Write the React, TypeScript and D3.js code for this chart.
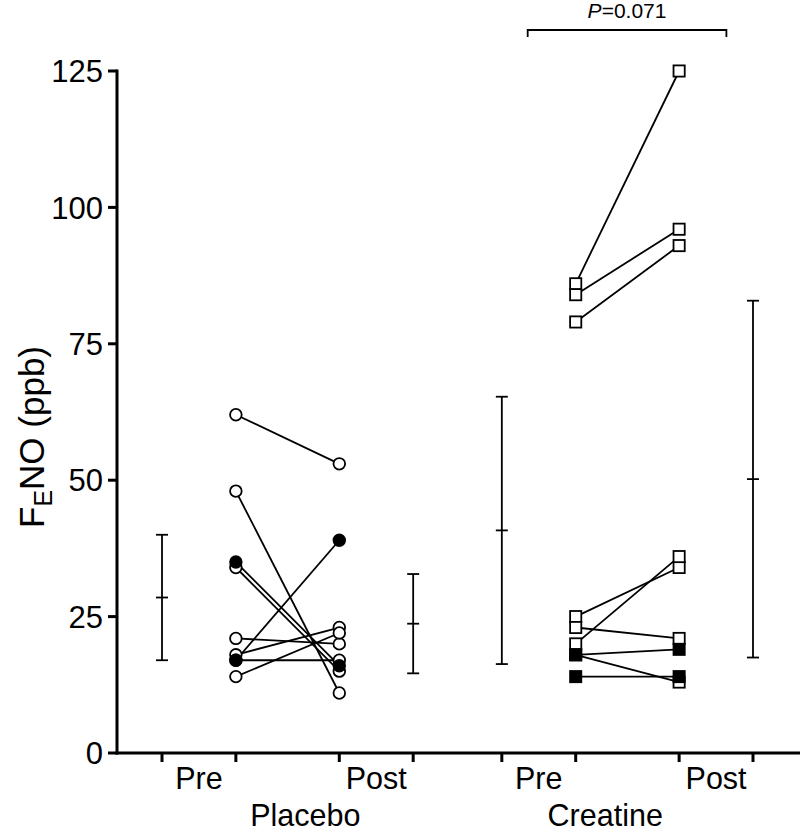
import React from "react";
import * as d3 from "d3";

// slot positions along x (scale units)
const slotKeys = ["plSDPre", "plPre", "plPost", "plSDPost", "crSDPre", "crPre", "crPost", "crSDPost"];
const slotUnits = [0, 1, 2.4, 3.4, 4.6, 5.6, 7, 8];

const yTicks = [0, 25, 50, 75, 100, 125];

// Placebo subjects: pre, post, filled (1) / open (0)
const placeboPre = [62, 48, 35, 34, 21, 18, 17, 14, 17];
const placeboPost = [53, 11, 16, 15, 20, 23, 39, 22, 17];
const placeboFilled = [0, 0, 1, 0, 0, 0, 1, 0, 0];

// Creatine subjects
const creatinePre = [86, 84, 79, 25, 20, 23, 18, 18, 14];
const creatinePost = [125, 96, 93, 34, 36, 21, 19, 13, 14];
const creatineFilled = [0, 0, 0, 0, 0, 0, 1, 0, 1];

// mean ± SD bars
const sdSlots = ["plSDPre", "plSDPost", "crSDPre", "crSDPost"];
const sdMeans = [28.5, 23.7, 40.8, 50.2];
const sdValues = [11.5, 9.1, 24.5, 32.7];

// x labels
const phaseLabels = ["Pre", "Post", "Pre", "Post"];
const phaseUnits = [0.5, 2.9, 5.1, 7.5];
const groupLabels = ["Placebo", "Creatine"];
const groupUnits = [1.94, 6.0];

// significance bracket
const bracketUnits = [4.95, 7.64];
const bracketText = "0.071";

export default function App() {
  const W = 800, H = 831;
  const axisX = 117;
  const x = d3.scaleLinear().domain([0, 8]).range([162, 753]);
  const y = d3.scaleLinear().domain([0, 125]).range([753, 71]);
  const slotX = (k: string) => x(slotUnits[slotKeys.indexOf(k)]);
  const font = "'Liberation Sans', Arial, Helvetica, sans-serif";

  const pairs = (pre: number[], post: number[], filled: number[], a: string, b: string) =>
    pre.map((v, i) => ({ x1: slotX(a), y1: y(v), x2: slotX(b), y2: y(post[i]), f: filled[i] }));
  const pl = pairs(placeboPre, placeboPost, placeboFilled, "plPre", "plPost");
  const cr = pairs(creatinePre, creatinePost, creatineFilled, "crPre", "crPost");

  const markers = (arr: any[], shape: string) => {
    const pts: any[] = [];
    arr.forEach((p) => {
      pts.push({ cx: p.x1, cy: p.y1, f: p.f });
      pts.push({ cx: p.x2, cy: p.y2, f: p.f });
    });
    pts.sort((a, b) => a.f - b.f);
    return pts.map((p, i) =>
      shape === "circle" ? (
        <circle key={shape + i} cx={p.cx} cy={p.cy} r={5.8} fill={p.f ? "#000" : "#fff"} stroke="#000" strokeWidth={1.8} />
      ) : (
        <rect key={shape + i} x={p.cx - 5.6} y={p.cy - 5.6} width={11.2} height={11.2} fill={p.f ? "#000" : "#fff"} stroke="#000" strokeWidth={1.8} />
      )
    );
  };

  const bx1 = x(bracketUnits[0]);
  const bx2 = x(bracketUnits[1]);

  return (
    <svg width={W} height={H} style={{ position: "absolute", left: 0, top: 0, background: "#fff" }} fontFamily={font}>
      {/* y axis */}
      <line x1={axisX} x2={axisX} y1={y(0) + 1.5} y2={y(125) - 1.5} stroke="#000" strokeWidth={3} />
      {yTicks.map((t) => (
        <g key={t}>
          <line x1={axisX - 9} x2={axisX} y1={y(t)} y2={y(t)} stroke="#000" strokeWidth={3} />
          <text x={axisX - 14} y={y(t)} dy="0.36em" textAnchor="end" fontSize={31}>{t}</text>
        </g>
      ))}
      <text transform={`translate(44,437) rotate(-90)`} textAnchor="middle" fontSize={35}>
        F<tspan fontSize={25} dy={8}>E</tspan><tspan dy={-8}>NO (ppb)</tspan>
      </text>
      {/* x axis */}
      <line x1={axisX - 1.5} x2={W} y1={y(0)} y2={y(0)} stroke="#000" strokeWidth={3} />
      {slotKeys.map((k) => (
        <line key={k} x1={slotX(k)} x2={slotX(k)} y1={y(0)} y2={y(0) + 9} stroke="#000" strokeWidth={3} />
      ))}
      {phaseLabels.map((l, i) => (
        <text key={"p" + i} x={x(phaseUnits[i])} y={789} textAnchor="middle" fontSize={30.5}>{l}</text>
      ))}
      {groupLabels.map((l, i) => (
        <text key={"g" + i} x={x(groupUnits[i])} y={826} textAnchor="middle" fontSize={30.5}>{l}</text>
      ))}
      {/* SD bars */}
      {sdSlots.map((k, i) => {
        const cx = slotX(k);
        const lo = y(sdMeans[i] - sdValues[i]);
        const hi = y(sdMeans[i] + sdValues[i]);
        const m = y(sdMeans[i]);
        return (
          <g key={k} stroke="#000" strokeWidth={1.8}>
            <line x1={cx} x2={cx} y1={lo} y2={hi} />
            <line x1={cx - 6} x2={cx + 6} y1={lo} y2={lo} />
            <line x1={cx - 6} x2={cx + 6} y1={hi} y2={hi} />
            <line x1={cx - 6} x2={cx + 6} y1={m} y2={m} />
          </g>
        );
      })}
      {/* connecting lines */}
      {[...pl, ...cr].map((p, i) => (
        <line key={"l" + i} x1={p.x1} y1={p.y1} x2={p.x2} y2={p.y2} stroke="#000" strokeWidth={1.8} />
      ))}
      {markers(pl, "circle")}
      {markers(cr, "rect")}
      {/* bracket */}
      <path d={`M${bx1},37 V30 H${bx2} V37`} fill="none" stroke="#000" strokeWidth={1.8} />
      <text x={(bx1 + bx2) / 2} y={18} textAnchor="middle" fontSize={21}>
        <tspan fontStyle="italic">P</tspan>={bracketText}
      </text>
    </svg>
  );
}
